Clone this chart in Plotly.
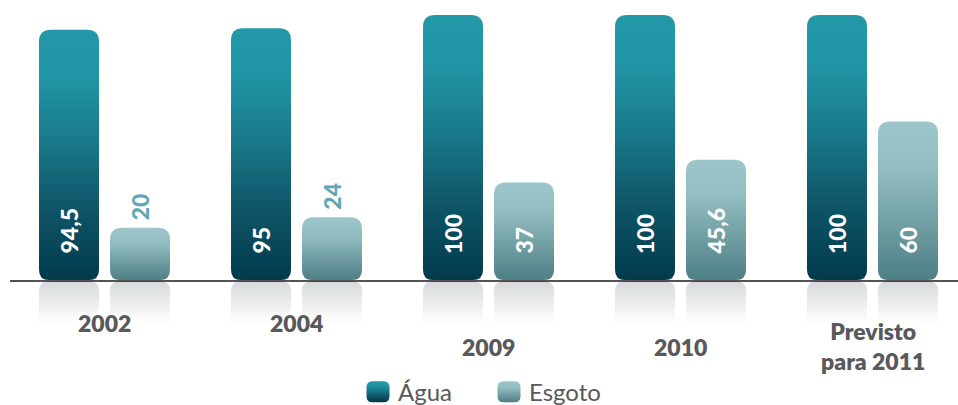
import plotly.graph_objects as go

# ---------------- data ----------------
categories = ["2002", "2004", "2009", "2010", "Previsto<br>para 2011"]
agua = [94.5, 95, 100, 100, 100]
esgoto = [20, 24, 37, 45.6, 60]
agua_labels = ["94,5", "95", "100", "100", "100"]
esgoto_labels = ["20", "24", "37", "45,6", "60"]
series_names = ["Água", "Esgoto"]

# ---------------- style ----------------
FONT = "Lato"
GRAY_TXT = "#58595b"
AGUA_MID = "#15687a"
ESGOTO_MID = "#7aa9ad"
OUT_LABEL = "#5aa8b8"

BAR_W = 60 / 192          # bar width in category units
OFF_A = -65.5 / 192       # left edge of Água bar relative to category centre
OFF_E = 5.5 / 192         # left edge of Esgoto bar relative to category centre
CEN_A = OFF_A + BAR_W / 2
CEN_E = OFF_E + BAR_W / 2
cat_label_drop = [42, 42, 66, 66, 65]   # px below baseline for category labels

x = list(range(len(categories)))

fig = go.Figure()

# reflections (mirror of the bars below the baseline)
fig.add_trace(go.Bar(x=x, y=[-v for v in agua], width=BAR_W, offset=OFF_A,
                     marker=dict(color="#d9d9db", line=dict(width=0)),
                     showlegend=False, hoverinfo="skip"))
fig.add_trace(go.Bar(x=x, y=[-v for v in esgoto], width=BAR_W, offset=OFF_E,
                     marker=dict(color="#d9d9db", line=dict(width=0)),
                     showlegend=False, hoverinfo="skip"))
# main bars
fig.add_trace(go.Bar(x=x, y=agua, name=series_names[0], width=BAR_W, offset=OFF_A,
                     marker=dict(color=AGUA_MID, line=dict(width=0), cornerradius=12)))
fig.add_trace(go.Bar(x=x, y=esgoto, name=series_names[1], width=BAR_W, offset=OFF_E,
                     marker=dict(color=ESGOTO_MID, line=dict(width=0), cornerradius=12)))

annotations = []
for i, (va, la) in enumerate(zip(agua, agua_labels)):
    annotations.append(dict(x=i + CEN_A, y=0, xref="x", yref="y", text=la,
                            textangle=-90, showarrow=False, yanchor="bottom",
                            yshift=25, font=dict(family=FONT, size=23, color="white", weight=900)))
for i, (ve, le) in enumerate(zip(esgoto, esgoto_labels)):
    inside = ve >= 30
    annotations.append(dict(x=i + CEN_E, y=0 if inside else ve, xref="x", yref="y", text=le,
                            textangle=-90, showarrow=False, yanchor="bottom",
                            yshift=25 if inside else 5,
                            font=dict(family=FONT, size=23,
                                      color="white" if inside else OUT_LABEL, weight=900)))
for i, c in enumerate(categories):
    annotations.append(dict(x=i, y=0, xref="x", yref="y", text=c, showarrow=False,
                            yanchor="middle", yshift=-cat_label_drop[i],
                            font=dict(family=FONT, size=23, color=GRAY_TXT, weight=800)))

fig.update_layout(
    width=958, height=405,
    margin=dict(l=0, r=0, t=0, b=0, autoexpand=False),
    paper_bgcolor="white", plot_bgcolor="white",
    barmode="overlay",
    xaxis=dict(range=[-104.5 / 192, -104.5 / 192 + 958 / 192], visible=False, fixedrange=True),
    yaxis=dict(range=[-46.62, 105.64], visible=False, fixedrange=True),
    showlegend=True,
    legend=dict(orientation="h", x=0.3737, xanchor="left", y=0.032, yanchor="middle",
                font=dict(family=FONT, size=24, color=GRAY_TXT),
                entrywidth=86, entrywidthmode="pixels", bgcolor="rgba(0,0,0,0)"),
    annotations=annotations,
    shapes=[dict(type="line", xref="paper", yref="y", x0=10 / 958, x1=1, y0=0, y1=0,
                 line=dict(color="#1a1a1a", width=1.6), layer="above")],
)

post = r"""
document.body.style.margin = '0';
document.body.style.padding = '0';
var gd = document.getElementById('{plot_id}');
var ns = 'http://www.w3.org/2000/svg';
var svg = gd.querySelector('svg.main-svg');
var defs = svg.querySelector('defs');
if (!defs) { defs = document.createElementNS(ns, 'defs'); svg.insertBefore(defs, svg.firstChild); }
function mk(id, stops, user) {
  var g = document.createElementNS(ns, 'linearGradient');
  g.setAttribute('id', id);
  g.setAttribute('x1', user ? user[0] : '0'); g.setAttribute('y1', user ? user[1] : '0');
  g.setAttribute('x2', user ? user[2] : '0'); g.setAttribute('y2', user ? user[3] : '1');
  if (user) g.setAttribute('gradientUnits', 'userSpaceOnUse');
  stops.forEach(function (s) {
    var st = document.createElementNS(ns, 'stop');
    st.setAttribute('offset', s[0]); st.setAttribute('stop-color', s[1]);
    st.setAttribute('stop-opacity', s.length > 2 ? s[2] : 1);
    g.appendChild(st);
  });
  defs.appendChild(g);
}
function rr(x, y, w, h, rt, rb) {
  rt = Math.min(rt, w / 2, h / 2); rb = Math.min(rb, w / 2, h / 2);
  return 'M' + x + ',' + (y + rt) +
    'Q' + x + ',' + y + ' ' + (x + rt) + ',' + y +
    'H' + (x + w - rt) +
    'Q' + (x + w) + ',' + y + ' ' + (x + w) + ',' + (y + rt) +
    'V' + (y + h - rb) +
    'Q' + (x + w) + ',' + (y + h) + ' ' + (x + w - rb) + ',' + (y + h) +
    'H' + (x + rb) +
    'Q' + x + ',' + (y + h) + ' ' + x + ',' + (y + h - rb) + 'Z';
}
mk('gAgua', [[0, '#2298a8'], [0.2, '#2094a4'], [0.45, '#19798a'], [0.7, '#0f5769'], [1, '#023a4d']]);
mk('gEsg', [[0, '#9cc6c9'], [0.3, '#93bdc1'], [1, '#4d7f84']]);
var traces = gd.querySelectorAll('.barlayer .trace');
var rc = 0;
traces.forEach(function (tr, ti) {
  tr.querySelectorAll('path').forEach(function (p) {
    var b = p.getBBox();
    if (ti < 2) {
      var id = 'gRef' + (rc++);
      p.setAttribute('d', rr(b.x, b.y, b.width, b.height, 10, 0));
      mk(id, [[0, '#d6d7d9', 1], [0.55, '#eeeeef', 0.8], [1, '#ffffff', 0]], ['0', b.y, '0', b.y + 50]);
      p.style.fill = 'url(#' + id + ')';
    } else {
      p.setAttribute('d', rr(b.x, b.y, b.width, b.height - 1, 12, 10));
      p.style.fill = ti == 2 ? 'url(#gAgua)' : 'url(#gEsg)';
    }
  });
});
var leg = gd.querySelectorAll('.legend .traces');
leg.forEach(function (tr, i) {
  tr.querySelectorAll('.legendpoints path').forEach(function (p) {
    p.setAttribute('d', rr(-11.5, -10.5, 23, 21, 6, 6));
    p.style.fill = i == 0 ? 'url(#gAgua)' : 'url(#gEsg)';
    p.style.stroke = 'none';
  });
});
"""

fig.write_html("out.html", post_script=post, config={"displayModeBar": False})
